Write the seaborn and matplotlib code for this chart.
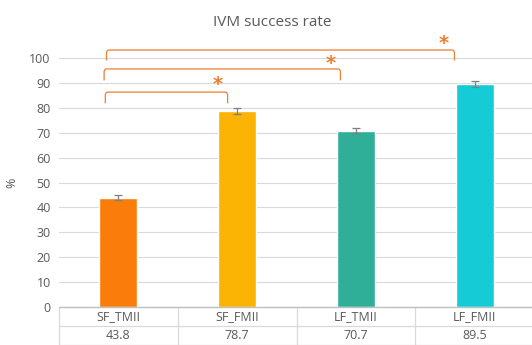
import numpy as np
import pandas as pd
import seaborn as sns
import matplotlib.pyplot as plt
from matplotlib.path import Path
from matplotlib.patches import PathPatch
from matplotlib.transforms import blended_transform_factory

categories = ["SF_TMII", "SF_FMII", "LF_TMII", "LF_FMII"]
rates = [43.8, 78.7, 70.7, 89.5]
errors = [1.0, 1.1, 1.0, 1.3]
colors = ["#FA7D0B", "#FBB304", "#2FAE98", "#15CCD6"]
yticks = list(range(0, 101, 10))

# significance brackets: (left x, right x, top y, leg bottom y, star x, star y)
brackets = [
    (-0.11, 0.92, 86.3, 81.8, 0.84, 89.2),
    (-0.12, 1.87, 95.6, 91.0, 1.79, 97.7),
    (-0.10, 2.83, 103.2, 99.0, 2.74, 105.7),
]

df = pd.DataFrame({"group": categories, "rate": rates})

sns.set_theme(style="white")
plt.rcParams["font.family"] = ["Open Sans", "DejaVu Sans"]

fig = plt.figure(figsize=(5.32, 3.45), dpi=100)
ax = fig.add_axes([59 / 532, 38 / 345, 475 / 532, 249 / 345])

sns.barplot(data=df, x="group", y="rate", hue="group", palette=colors,
            width=0.32, legend=False, ax=ax, saturation=1, errorbar=None,
            zorder=3)
ax.errorbar(range(len(rates)), rates, yerr=errors, fmt="none",
            ecolor="#7F7F7F", elinewidth=0.9, capsize=3, capthick=0.9, zorder=4)

ax.set_ylim(0, 100)
ax.set_xlim(-0.5, 3.5)
ax.set_yticks(yticks)
ax.set_yticklabels([str(t) for t in yticks], color="#595959", fontsize=9)
ax.tick_params(axis="y", length=0, pad=6)
ax.set_xticks([])
ax.set_xlabel("")
ax.set_ylabel("%", color="#595959", fontsize=9, labelpad=8)
ax.yaxis.grid(True, color="#D9D9D9", linewidth=0.8, zorder=0)
for s in ax.spines.values():
    s.set_visible(False)

fig.text(272 / 532, 1 - 22 / 345, "IVM success rate", color="#595959",
         fontsize=11, ha="center", va="center")

orange = "#ED7D31"
r = 1.2
for x0, x1, ytop, ybot, sx, sy in brackets:
    dx = 0.02
    verts = [(x0, ybot), (x0, ytop - r), (x0, ytop), (x0 + dx, ytop),
             (x1 - dx, ytop), (x1, ytop), (x1, ytop - r), (x1, ybot)]
    codes = [Path.MOVETO, Path.LINETO, Path.CURVE3, Path.CURVE3,
             Path.LINETO, Path.CURVE3, Path.CURVE3, Path.LINETO]
    ax.add_patch(PathPatch(Path(verts, codes), fill=False, edgecolor=orange,
                           linewidth=0.9, clip_on=False, zorder=5))
    ax.text(sx, sy, "*", color=orange, fontsize=14, fontweight="bold",
            ha="center", va="center", clip_on=False, family="DejaVu Sans")

# data table under the axis
trans = blended_transform_factory(ax.transData, ax.transAxes)
row_h = 19 / 249
line_kw = dict(color="#D9D9D9", linewidth=0.9, clip_on=False, transform=trans)
for yy in (0, -row_h, -2 * row_h):
    ax.plot([-0.5, 3.5], [yy, yy], **line_kw)
for xx in np.arange(-0.5, 3.6, 1.0):
    ax.plot([xx, xx], [0, -2 * row_h], **line_kw)
ax.plot([-0.5, 3.5], [0, 0], color="#BFBFBF", linewidth=0.9, clip_on=False,
        transform=trans, zorder=6)
for i, (c, v) in enumerate(zip(categories, rates)):
    ax.text(i, -row_h / 2, c, ha="center", va="center", fontsize=9,
            color="#595959", transform=trans)
    ax.text(i, -1.5 * row_h, f"{v:.1f}", ha="center", va="center",
            fontsize=9, color="#595959", transform=trans)

fig.savefig("out.png", dpi=100)
